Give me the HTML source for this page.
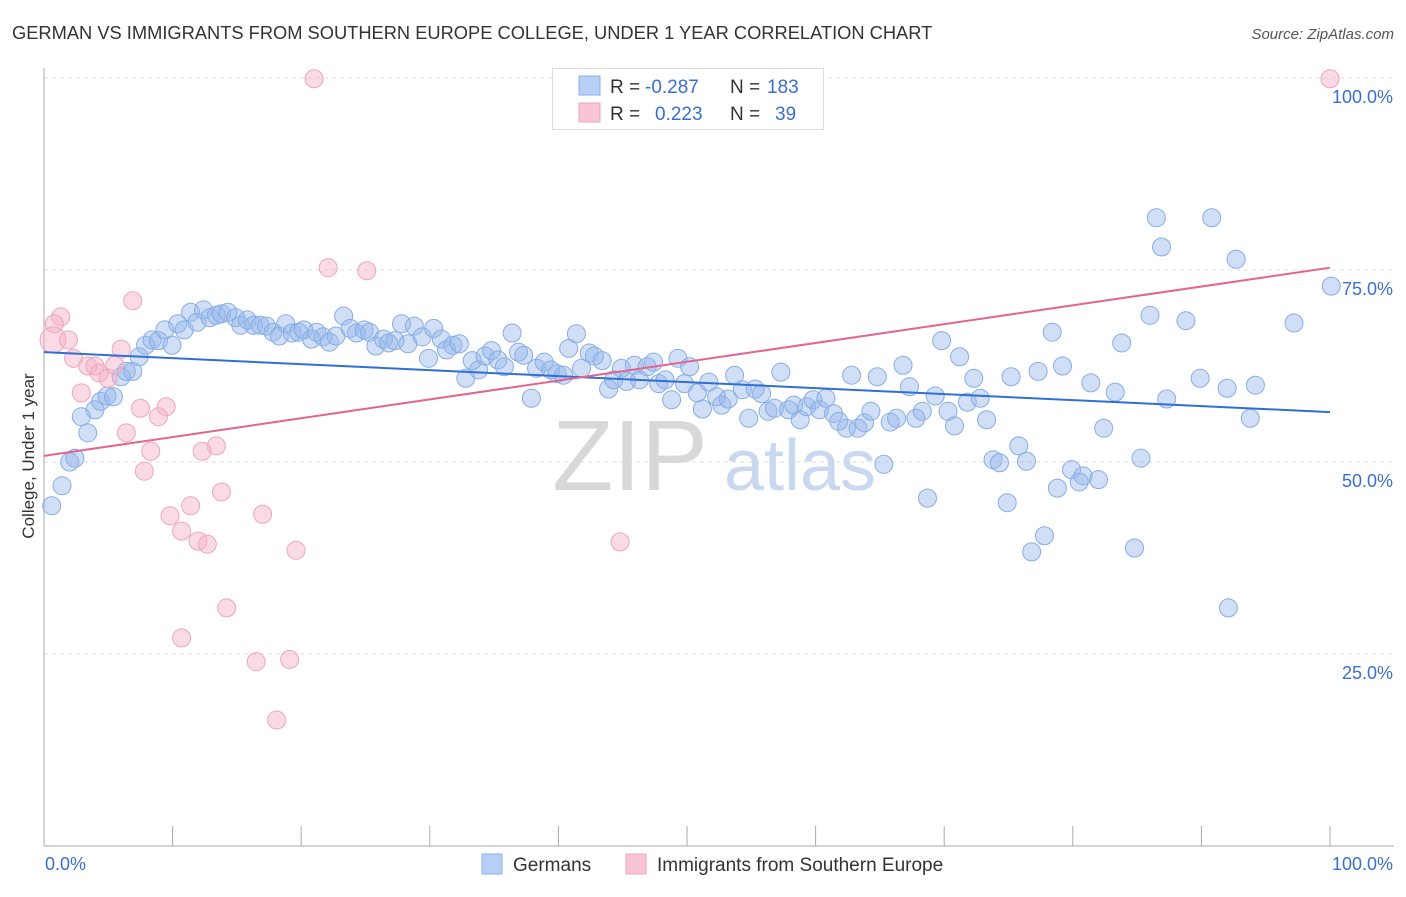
<!DOCTYPE html>
<html><head><meta charset="utf-8">
<style>
body{margin:0;background:#fff;font-family:"Liberation Sans",sans-serif;}
svg text{font-family:"Liberation Sans",sans-serif;}
</style></head>
<body>
<svg id="chart" width="1406" height="892">
<text x="12" y="39" font-size="18.3" fill="#333">GERMAN VS IMMIGRANTS FROM SOUTHERN EUROPE COLLEGE, UNDER 1 YEAR CORRELATION CHART</text>
<text x="1394" y="39" font-size="15" fill="#555" text-anchor="end" font-style="italic">Source: ZipAtlas.com</text>
<text x="630" y="490" font-size="100" fill="#d8d8d8" text-anchor="middle" font-family="Liberation Serif">ZIP</text>
<text x="800" y="490" font-size="72" fill="#c8d8f0" text-anchor="middle">atlas</text>
<g id="grid"></g>
<g id="axes"></g>
<g id="pts"></g>
<g id="lines"></g>
<text transform="translate(34,456) rotate(-90)" font-size="17" fill="#333" text-anchor="middle">College, Under 1 year</text>
<g>
<rect x="552.5" y="68.5" width="271" height="61" fill="#fff" stroke="#ddd"/>
<rect x="579" y="76" width="21" height="19" fill="#b8d0f5" stroke="#8ab0e6"/>
<rect x="579" y="103" width="21" height="19" fill="#f9c4d4" stroke="#eea4bc"/>
<text x="610" y="93" font-size="19" fill="#333">R =</text>
<text x="645" y="93" font-size="19" fill="#3a6fd0">-0.287</text>
<text x="730" y="93" font-size="19" fill="#333">N =</text>
<text x="767" y="93" font-size="19" fill="#3a6fd0">183</text>
<text x="610" y="120" font-size="19" fill="#333">R =</text>
<text x="655" y="120" font-size="19" fill="#3a6fd0">0.223</text>
<text x="730" y="120" font-size="19" fill="#333">N =</text>
<text x="775" y="120" font-size="19" fill="#3a6fd0">39</text>
</g>
<g>
<rect x="482" y="854" width="20" height="20" fill="#b8d0f5" stroke="#8ab0e6"/>
<text x="513" y="871" font-size="19" fill="#333">Germans</text>
<rect x="626" y="854" width="20" height="20" fill="#f9c4d4" stroke="#eea4bc"/>
<text x="657" y="871" font-size="19" fill="#333">Immigrants from Southern Europe</text>
</g>
</svg>
<script>
const yTicks=[25,50,75,100];
const yTickLabels=["25.0%","50.0%","75.0%","100.0%"];
const xTickLabels=["0.0%","100.0%"];
const germansX=[0.6,1.4,2.0,2.4,2.9,3.4,3.97,4.4,4.9,5.4,6.0,6.4,6.9,7.4,7.9,8.4,8.9,9.4,9.95,10.4,10.9,11.4,11.9,12.4,12.9,13.4,13.8,14.3,14.9,15.3,15.8,16.3,16.8,17.3,17.8,18.3,18.8,19.3,19.8,20.2,20.8,21.2,21.7,22.2,22.7,23.3,23.8,24.3,24.9,25.3,25.8,26.4,26.8,27.3,27.8,28.3,28.8,29.4,29.9,30.3,30.9,31.3,31.8,32.3,32.8,33.3,33.8,34.3,34.8,35.3,35.8,36.4,36.9,37.3,37.9,38.3,38.9,39.4,39.9,40.4,40.8,41.4,41.8,42.4,42.8,43.4,43.9,44.3,44.9,45.3,45.9,46.3,46.9,47.4,47.8,48.3,48.8,49.3,49.8,50.2,50.8,51.2,51.7,52.3,52.7,53.2,53.7,54.3,54.8,55.3,55.8,56.3,56.8,57.3,57.9,58.3,58.8,59.3,59.8,60.3,60.8,61.4,61.8,62.4,62.8,63.3,63.8,64.3,64.8,65.3,65.8,66.3,66.8,67.3,67.8,68.3,68.7,69.3,69.8,70.3,70.8,71.2,71.8,72.3,72.8,73.3,73.8,74.3,74.9,75.2,75.8,76.4,76.8,77.3,77.8,78.4,78.8,79.2,79.9,80.5,80.8,81.4,82.0,82.4,83.3,83.8,84.8,85.3,86.0,86.5,86.9,87.3,88.8,89.9,90.8,92.0,92.1,92.7,93.8,94.2,97.2,100.1];
const germansY=[44.3,46.9,50.0,50.5,55.9,53.8,56.8,57.9,58.6,58.5,61.1,61.8,61.8,63.7,65.2,65.9,65.8,67.2,65.2,68.0,67.2,69.5,68.2,69.8,68.8,69.1,69.3,69.5,68.8,67.8,68.5,67.8,67.8,67.7,66.9,66.4,68.0,66.8,66.9,67.2,66.0,66.9,66.3,65.6,66.4,69.0,67.4,66.8,67.2,66.9,65.1,66.0,65.5,65.8,68.0,65.4,67.7,66.3,63.5,67.4,66.0,64.6,65.2,65.4,60.9,63.2,62.0,63.8,64.5,63.3,62.4,66.8,64.3,63.9,58.3,62.2,63.0,62.0,61.5,61.3,64.8,66.7,62.2,64.2,63.8,63.2,59.5,60.7,62.2,60.5,62.6,60.7,62.4,63.0,60.2,60.7,58.1,63.5,60.2,62.4,59.0,56.9,60.4,58.5,57.4,58.2,61.3,59.4,55.7,59.5,58.9,56.6,57.0,61.7,56.8,57.4,55.5,57.2,58.1,56.8,58.3,56.3,55.3,54.4,61.3,54.4,55.1,56.6,61.1,49.7,55.2,55.7,62.6,59.8,55.7,56.6,45.3,58.6,65.8,56.6,54.7,63.7,57.8,60.9,58.3,55.5,50.3,49.9,44.7,61.1,52.1,50.1,38.3,61.8,40.4,66.9,46.6,62.5,49.0,47.4,48.2,60.3,47.7,54.4,59.1,65.5,38.8,50.5,69.1,81.8,78.0,58.2,68.4,60.9,81.8,59.6,31.0,76.4,55.7,60.0,68.1,72.9];
const immX=[21.0,100,22.1,25.1,6.9,1.3,0.8,0.7,1.9,2.3,3.4,3.97,4.3,4.98,5.5,6.0,2.9,7.5,9.5,8.9,6.4,8.3,7.8,13.4,12.3,13.8,11.4,9.8,10.7,11.98,12.7,17.0,19.6,44.8,10.7,14.2,16.5,19.1,18.1];
const immY=[99.9,99.9,75.3,74.9,71.0,68.9,68.0,65.9,65.9,63.5,62.5,62.5,61.6,60.9,62.6,64.7,59.0,57.0,57.2,55.9,53.8,51.4,48.8,52.1,51.4,46.1,44.3,43.0,41.0,39.7,39.3,43.2,38.5,39.6,27.1,31.0,24.0,24.3,16.4];
const germansTrend=[64.3,56.5];
const immTrend=[50.8,75.3];

const NS="http://www.w3.org/2000/svg";
const X0=44,X1=1330,Y0=846,Y100=78;
const sx=v=>X0+(X1-X0)*v/100;
const sy=v=>Y0-(Y0-Y100)*v/100;
function mk(tag,attrs,parent){const e=document.createElementNS(NS,tag);for(const k in attrs)e.setAttribute(k,attrs[k]);parent.appendChild(e);return e;}
const grid=document.getElementById('grid'),axes=document.getElementById('axes'),pts=document.getElementById('pts'),lines=document.getElementById('lines');
yTicks.forEach((t,i)=>{
  const l=mk('line',{x1:X0,x2:1394,y1:sy(t),y2:sy(t),stroke:'#ddd','stroke-dasharray':'4,4'},grid);
  
  
  const tx=mk('text',{x:1393,y:sy(t)+25,'font-size':18,fill:'#3a6fd0','text-anchor':'end'},axes);
  tx.textContent=yTickLabels[i];
  
  
});
const ax=mk('line',{x1:X0,x2:X0,y1:68,y2:Y0,stroke:'#aaa'},axes);


const bx=mk('line',{x1:X0,x2:1394,y1:Y0,y2:Y0,stroke:'#aaa'},axes);


for(let i=0;i<=10;i++){
  const t=mk('line',{x1:sx(i*10),x2:sx(i*10),y1:Y0,y2:Y0-20,stroke:'#aaa'},axes);
  
  
}
[[0,'start',45],[100,'end',1393]].forEach((d,i)=>{
  const tx=mk('text',{x:d[2],y:870,'font-size':18,fill:'#3a6fd0','text-anchor':d[1]},axes);
  tx.textContent=xTickLabels[i];
  
  
});
germansX.forEach((x,i)=>{
  const c=mk('circle',{cx:sx(x),cy:sy(germansY[i]),r:9,fill:'rgba(150,185,235,0.45)',stroke:'#86aee4','stroke-width':1},pts);
  
  
});
immX.forEach((x,i)=>{
  const c=mk('circle',{cx:sx(x),cy:sy(immY[i]),r:i==7?13:9,fill:'rgba(245,175,198,0.45)',stroke:'#eca6bd','stroke-width':1},pts);
  
  
});
const gl=mk('line',{x1:sx(0),y1:sy(germansTrend[0]),x2:sx(100),y2:sy(germansTrend[1]),stroke:'#2f6fd6','stroke-width':2},lines);


const il=mk('line',{x1:sx(0),y1:sy(immTrend[0]),x2:sx(100),y2:sy(immTrend[1]),stroke:'#e5638f','stroke-width':2},lines);


</script>
</body></html>
